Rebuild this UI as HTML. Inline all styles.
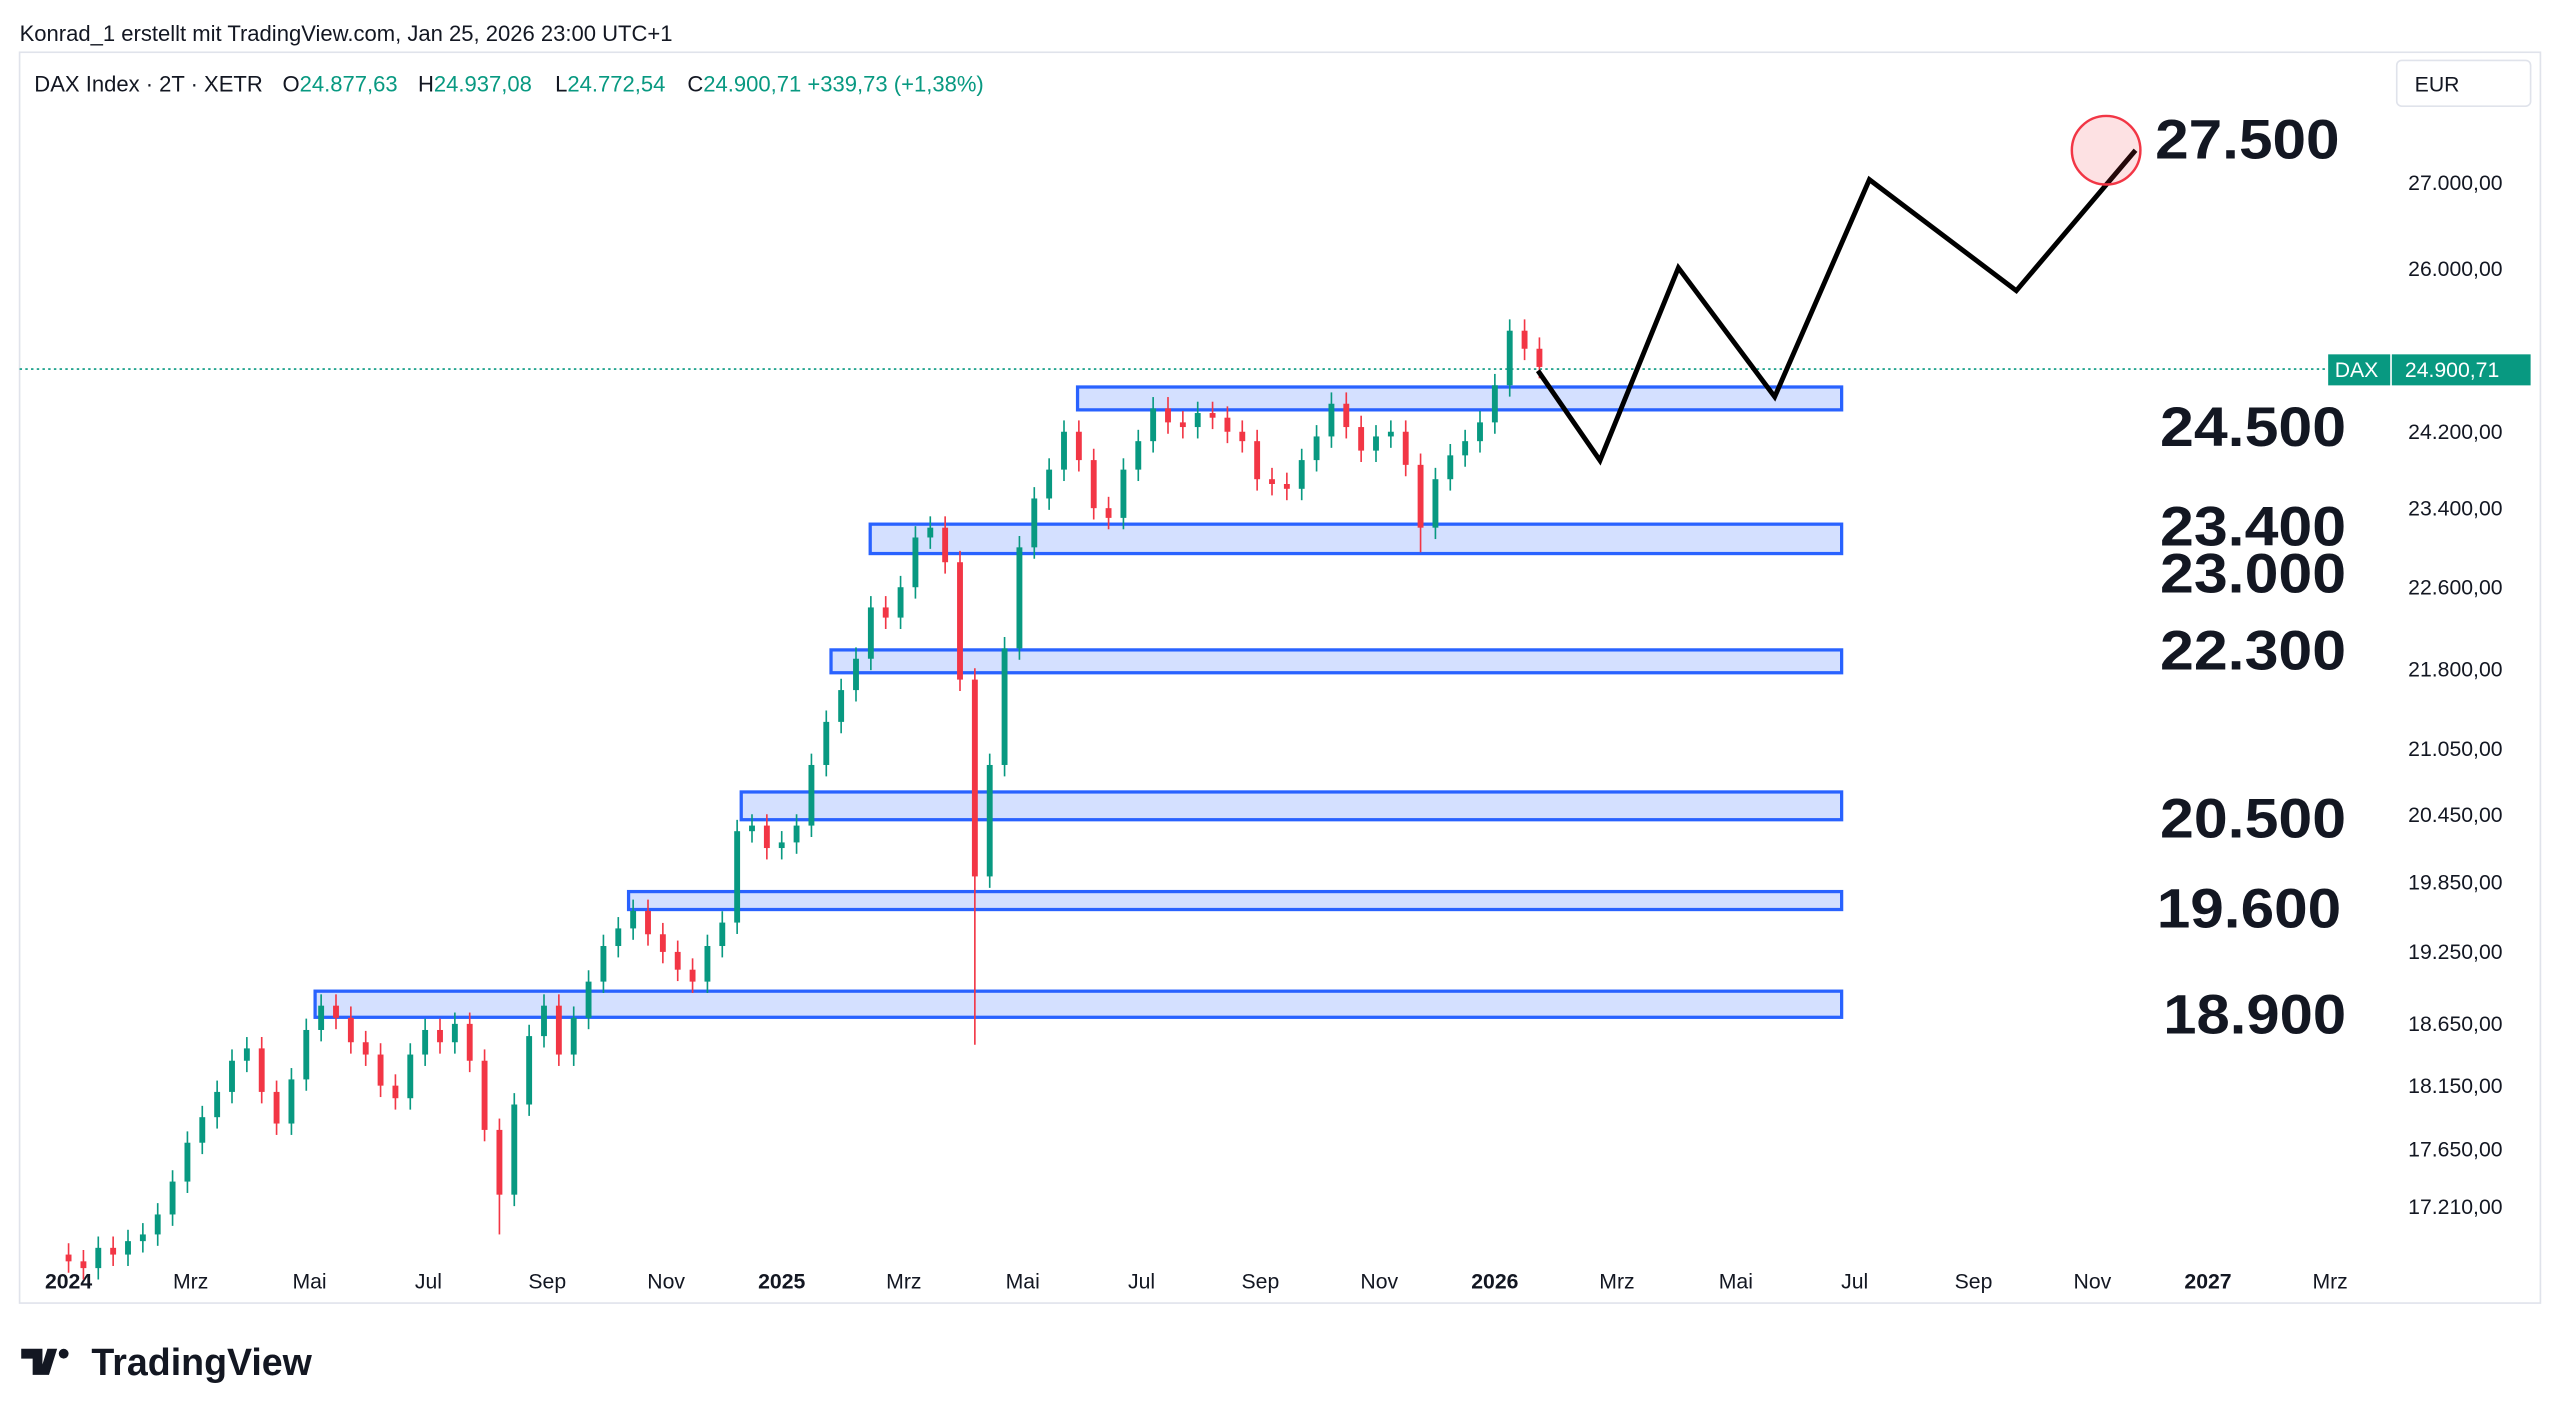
<!DOCTYPE html>
<html><head><meta charset="utf-8"><style>
html,body{margin:0;padding:0;background:#fff;}
svg{display:block;font-family:"Liberation Sans",sans-serif;}
</style></head><body>
<svg id="chart" width="2560" height="1419" viewBox="0 0 1568 869" preserveAspectRatio="none" xmlns="http://www.w3.org/2000/svg">
<rect x="0" y="0" width="1568" height="869" fill="#fff"/>
<text x="12" y="25" font-size="13.5" fill="#131722">Konrad_1 erstellt mit TradingView.com, Jan 25, 2026 23:00 UTC+1</text>
<rect x="12" y="32" width="1544" height="766" fill="none" stroke="#e0e3eb" stroke-width="1"/>
<g font-size="13.5">
<text x="21" y="56" fill="#131722">DAX Index · 2T · XETR</text>
<text x="173" y="56" fill="#131722">O<tspan fill="#089981">24.877,63</tspan></text>
<text x="256" y="56" fill="#131722">H<tspan fill="#089981">24.937,08</tspan></text>
<text x="340" y="56" fill="#131722">L<tspan fill="#089981">24.772,54</tspan></text>
<text x="421" y="56" fill="#131722">C<tspan fill="#089981">24.900,71 +339,73 (+1,38%)</tspan></text>
</g>
<g>
<rect x="1468" y="37" width="82" height="28" rx="3" fill="#fff" stroke="#e0e3eb"/>
<text x="1479" y="56" font-size="13" fill="#131722">EUR</text>
</g>
<g id="yaxis" font-size="13" fill="#131722"></g>
<g id="xaxis" font-size="13" fill="#131722"></g>
<line x1="12" y1="226" x2="1426" y2="226" stroke="#089981" stroke-width="1" stroke-dasharray="1.5,2"/>
<g id="zones"></g>
<g id="candles"></g>
<polyline points="942,227 980,282 1028,164 1087,243 1145,110 1235,178 1308,92" fill="none" stroke="#000" stroke-width="3" stroke-linejoin="miter"/>
<circle cx="1290" cy="92" r="21" fill="rgba(242,54,69,0.15)" stroke="#f23645" stroke-width="1.5"/>
<g font-size="34" font-weight="bold" fill="#131722">
<text x="1320" y="97" textLength="113" lengthAdjust="spacingAndGlyphs">27.500</text>
<text x="1323" y="273" textLength="114" lengthAdjust="spacingAndGlyphs">24.500</text>
<text x="1323" y="334" textLength="114" lengthAdjust="spacingAndGlyphs">23.400</text>
<text x="1323" y="363" textLength="114" lengthAdjust="spacingAndGlyphs">23.000</text>
<text x="1323" y="410" textLength="114" lengthAdjust="spacingAndGlyphs">22.300</text>
<text x="1323" y="513" textLength="114" lengthAdjust="spacingAndGlyphs">20.500</text>
<text x="1321" y="568" textLength="113" lengthAdjust="spacingAndGlyphs">19.600</text>
<text x="1325" y="633" textLength="112" lengthAdjust="spacingAndGlyphs">18.900</text>
</g>
<g>
<rect x="1426" y="217" width="38" height="19" fill="#089981"/>
<rect x="1465" y="217" width="85" height="19" fill="#089981"/>
<text x="1430" y="231" font-size="13" fill="#fff">DAX</text>
<text x="1473" y="231" font-size="13" fill="#fff">24.900,71</text>
</g>
<g>
<path d="M13 826h13v16h-6v-10h-7z M29 826h6l-5 16h-6z" fill="#131722"/>
<circle cx="39" cy="829" r="3" fill="#131722"/>
<text x="56" y="842" font-size="23" font-weight="bold" fill="#131722">TradingView</text>
</g>
</svg>
<script>
const closes=[16800,16750,16900,16850,16950,17000,17150,17400,17700,17900,18100,18350,18450,18100,17850,18200,18600,18800,18700,18500,18400,18150,18050,18400,18600,18500,18650,18350,17800,17300,18000,18550,18800,18400,18700,19000,19300,19450,19600,19400,19250,19100,19000,19300,19500,20300,20350,20150,20200,20350,20900,21300,21600,21900,22400,22300,22600,23100,23200,22850,21700,19900,20900,22000,23000,23500,23800,24200,23900,23400,23300,23800,24100,24450,24300,24250,24400,24350,24200,24100,23700,23650,23600,23900,24150,24500,24250,24000,24150,24200,23850,23200,23700,23950,24100,24300,24700,25300,25100,24900];
const firstOpen=16850;
const lowOverrides={29:17000,61:18480,91:22950};
const yTicks=[27000,26000,24200,23400,22600,21800,21050,20450,19850,19250,18650,18150,17650,17210];
const yTickLabels=["27.000,00","26.000,00","24.200,00","23.400,00","22.600,00","21.800,00","21.050,00","20.450,00","19.850,00","19.250,00","18.650,00","18.150,00","17.650,00","17.210,00"];
const xTickMonths=[0,2,4,6,8,10,12,14,16,18,20,22,24,26,28,30,32,34,36,38];
const xTickLabels=["2024","Mrz","Mai","Jul","Sep","Nov","2025","Mrz","Mai","Jul","Sep","Nov","2026","Mrz","Mai","Jul","Sep","Nov","2027","Mrz"];
const candleStep=0.25;
const NS="http://www.w3.org/2000/svg";
function yScale(p){return 112+(Math.log(27000)-Math.log(p))*1392;}
function xScale(m){return 42+m*36.4;}
const ya=document.getElementById('yaxis');
yTicks.forEach((v,i)=>{const t=document.createElementNS(NS,'text');


t.setAttribute('x',1475);t.setAttribute('y',yScale(v)+4.5);t.textContent=yTickLabels[i];ya.appendChild(t);});
const xa=document.getElementById('xaxis');
xTickMonths.forEach((m,i)=>{const t=document.createElementNS(NS,'text');


t.setAttribute('x',xScale(m)+(i%6===0?0:2));t.setAttribute('y',789);t.setAttribute('text-anchor','middle');
if(/^\d+$/.test(xTickLabels[i]))t.setAttribute('font-weight','bold');
t.textContent=xTickLabels[i];xa.appendChild(t);});
const zones=[[660,237,251],[533,321,339],[509,398,412],[454,485,502],[385,546,557],[193,607,623]];
const zg=document.getElementById('zones');
zones.forEach(z=>{const r=document.createElementNS(NS,'rect');


r.setAttribute('x',z[0]);r.setAttribute('y',z[1]);r.setAttribute('width',1128-z[0]);r.setAttribute('height',z[2]-z[1]);
r.setAttribute('fill','rgba(41,98,255,0.2)');r.setAttribute('stroke','#2962ff');r.setAttribute('stroke-width','2');zg.appendChild(r);});
const cg=document.getElementById('candles');
let prev=firstOpen;
closes.forEach((c,i)=>{const o=prev;prev=c;
const hi=Math.max(o,c)*1.005;const lo=(lowOverrides[i]!==undefined)?lowOverrides[i]:Math.min(o,c)*0.995;
const col=c>=o?'#089981':'#f23645';const x=xScale(i*candleStep);
const w=document.createElementNS(NS,'line');


w.setAttribute('x1',x);w.setAttribute('x2',x);w.setAttribute('y1',yScale(hi));w.setAttribute('y2',yScale(lo));w.setAttribute('stroke',col);w.setAttribute('stroke-width','1');cg.appendChild(w);
const b=document.createElementNS(NS,'rect');


const y1=yScale(Math.max(o,c)),y2=yScale(Math.min(o,c));
b.setAttribute('x',x-1.8);b.setAttribute('width',3.6);b.setAttribute('y',y1);b.setAttribute('height',Math.max(1,y2-y1));b.setAttribute('fill',col);cg.appendChild(b);});
</script>
</body></html>
